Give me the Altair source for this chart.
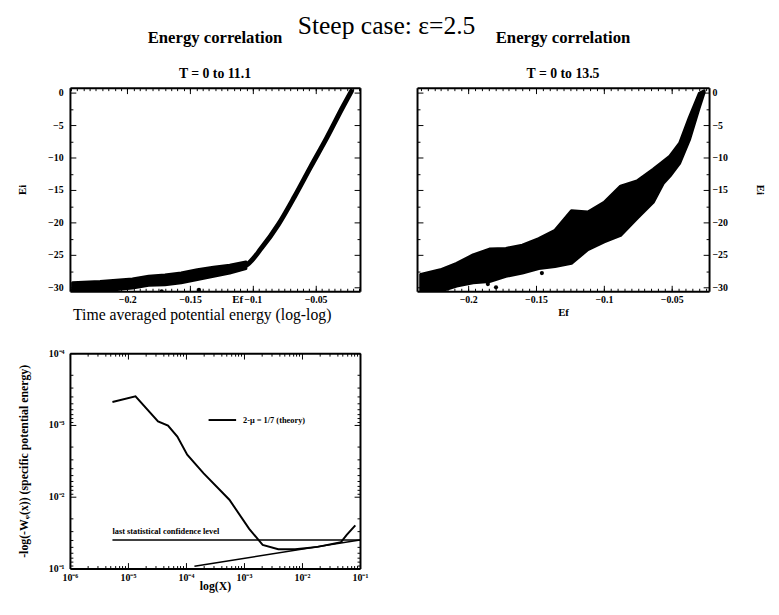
import json
import altair as alt
import numpy as np
import pandas as pd

SERIF = "Liberation Serif"

# ---------------- data ----------------
MAIN_TITLE = "Steep case: \u03b5=2.5"

# top-left panel: T = 0 to 11.1
TL_BAND_EF = [-0.2436, -0.2217, -0.1959, -0.1830, -0.1700, -0.1571, -0.1442, -0.1313, -0.1184, -0.1055]
TL_BAND_UP = [-29.3, -29.1, -28.7, -28.3, -28.1, -27.8, -27.3, -26.9, -26.6, -26.1]
TL_BAND_LO = [-30.9, -30.6, -30.1, -29.7, -29.6, -29.3, -28.8, -28.3, -27.8, -27.1]
TL_CURVE_EF = [-0.1184, -0.1055, -0.0925, -0.0796, -0.0667, -0.0538, -0.0409, -0.0280, -0.0215]
TL_CURVE_EI = [-27.2, -26.6, -23.8, -20.3, -16.0, -11.4, -6.9, -2.1, 0.2]
TL_DOTS_EF = [-0.1726, -0.1429]
TL_DOTS_EI = [-30.6, -30.4]

# top-right panel: T = 0 to 13.5
TR_EF = [-0.2350, -0.2205, -0.2085, -0.1964, -0.1843, -0.1722, -0.1601, -0.1480, -0.1360, -0.1239,
         -0.1118, -0.0998, -0.0877, -0.0756, -0.0636, -0.0563, -0.0514, -0.0442, -0.0370, -0.0297, -0.0261]
TR_UP = [-28.0, -27.3, -26.3, -25.0, -24.1, -24.0, -23.5, -22.5, -21.2, -18.2,
         -18.4, -16.9, -14.4, -13.6, -11.8, -10.6, -9.8, -7.8, -3.8, -0.1, 0.3]
TR_LO = [-30.8, -30.6, -29.8, -29.3, -29.1, -28.3, -27.8, -27.1, -26.8, -26.3,
         -24.2, -23.0, -22.0, -19.4, -16.9, -14.0, -12.9, -10.9, -7.3, -2.3, 0.0]
TR_DOTS_EF = [-0.1855, -0.1795, -0.1457]
TR_DOTS_EI = [-29.5, -30.0, -27.8]

# bottom panel: time averaged potential energy
BL_X = [5.4e-6, 1.35e-5, 3.3e-5, 4.9e-5, 7.1e-5, 1.05e-4, 2.0e-4, 5.6e-4, 1.23e-3, 2.1e-3,
        3.9e-3, 7.6e-3, 1.86e-2, 4.7e-2, 5.9e-2, 8.3e-2]
BL_Y = [4.8e-4, 4.0e-4, 8.9e-4, 1.02e-3, 1.45e-3, 2.6e-3, 4.7e-3, 1.1e-2, 2.8e-2, 4.7e-2,
        5.4e-2, 5.4e-2, 5.0e-2, 4.3e-2, 3.4e-2, 2.5e-2]
BL_CONF_X = [5.4e-6, 1e-1]
BL_CONF_Y = [0.040, 0.040]
BL_CONF_LABEL = "last statistical confidence level"
BL_TH_X = [1.4e-4, 1e-1]
BL_TH_Y = [0.093, 0.040]
BL_TH_LABEL = "2-\u03bc = 1/7 (theory)"

# ticks / labels
E_MAJOR = [-30, -25, -20, -15, -10, -5, 0]
E_MINOR = [-27.5, -22.5, -17.5, -12.5, -7.5, -2.5]
EF_MAJOR = [-0.2, -0.15, -0.1, -0.05]
EF_MINOR = [round(v, 3) for v in np.arange(-0.245, -0.014, 0.005)]
LOGX_MAJOR = [1e-6, 1e-5, 1e-4, 1e-3, 1e-2, 1e-1]
LOGY_MAJOR = [1e-4, 1e-3, 1e-2, 1e-1]
LOG_LABELS = ["10\u2070", "10\u207b\u00b9", "10\u207b\u00b2", "10\u207b\u00b3",
              "10\u207b\u2074", "10\u207b\u2075", "10\u207b\u2076"]


def log_minor(lo_exp, hi_exp):
    return [k * 10.0 ** e for e in range(lo_exp, hi_exp) for k in range(2, 10)]


LOGX_MINOR = log_minor(-6, -1)
LOGY_MINOR = log_minor(-4, -1)

TL_W, TL_H = 295, 207
TR_W, TR_H = 297, 207
BL_W, BL_H = 295, 219


def ax(**kw):
    base = dict(ticks=False, domain=False, grid=False, labelFont=SERIF, labelFontSize=10,
                labelFontWeight="bold", labelColor="black", titleFont=SERIF, titleFontSize=11,
                titleFontWeight="bold", titleColor="black", labelFlush=False)
    base.update(kw)
    return alt.Axis(**base)


def tick_axis(orient, offset, values, size, domain):
    return alt.Axis(orient=orient, offset=offset, values=values, tickSize=size, tickColor="black",
                    tickWidth=1, ticks=True, labels=False, title=None, grid=False, domain=domain,
                    domainColor="black", domainWidth=2, zindex=1)


def tick_layers(xs, ys, xlo, ylo, W, H, xmaj, xmin, ymaj, ymin, lmaj=6, lmin=3):
    """Invisible layers whose only job is to draw inward ticks and the frame via axes."""
    df = pd.DataFrame({"tx": [xlo], "ty": [ylo]})
    out = []
    for xo, yo in (("bottom", "right"), ("top", "left")):
        for vx, vy, L, dom in ((xmaj, ymaj, lmaj, True), (xmin, ymin, lmin, False)):
            out.append(alt.Chart(df).mark_point(opacity=0).encode(
                x=alt.X("tx:Q", scale=xs, axis=tick_axis(xo, -H, vx, L, dom)),
                y=alt.Y("ty:Q", scale=ys, axis=tick_axis(yo, -W, vy, L, dom)),
            ))
    return out


def panel_title(text, sub):
    return alt.TitleParams(text=text, subtitle=sub, font=SERIF, fontSize=17, fontWeight="bold",
                           color="black", subtitleFont=SERIF, subtitleFontSize=14,
                           subtitleFontWeight="bold", subtitleColor="black", subtitlePadding=21,
                           offset=5, anchor="middle", frame="group")


# ---------------- top-left ----------------
tl_x = alt.Scale(domain=[-0.2457, -0.0146], nice=False, zero=False)
tl_y = alt.Scale(domain=[-30.6, 0.76], nice=False, zero=False)
tl_xax = ax(values=EF_MAJOR, format=".2~f", title="Ef", labelPadding=3,
            titleX=170, titleY=8, titleBaseline="middle")
tl_yax = ax(values=E_MAJOR, title="Ei", labelPadding=7, titlePadding=20)

tl_band = alt.Chart(pd.DataFrame({"Ef": TL_BAND_EF, "up": TL_BAND_UP, "lo": TL_BAND_LO})).mark_area(
    color="black", stroke="black", strokeWidth=3, strokeJoin="round", clip=True
).encode(
    x=alt.X("Ef:Q", scale=tl_x, axis=tl_xax),
    y=alt.Y("lo:Q", scale=tl_y, axis=tl_yax),
    y2="up:Q",
)
tl_curve = alt.Chart(pd.DataFrame({"Ef": TL_CURVE_EF, "Ei": TL_CURVE_EI})).mark_line(
    color="black", strokeWidth=5, strokeCap="round", interpolate="monotone", clip=True
).encode(x=alt.X("Ef:Q", scale=tl_x, axis=tl_xax), y=alt.Y("Ei:Q", scale=tl_y, axis=tl_yax))
tl_dots = alt.Chart(pd.DataFrame({"Ef": TL_DOTS_EF, "Ei": TL_DOTS_EI})).mark_circle(
    color="black", size=18, opacity=1, clip=True
).encode(x=alt.X("Ef:Q", scale=tl_x, axis=tl_xax), y=alt.Y("Ei:Q", scale=tl_y, axis=tl_yax))

tl = alt.layer(
    alt.layer(tl_band, tl_curve, tl_dots),
    *tick_layers(tl_x, tl_y, -0.2457, -30.6, TL_W, TL_H, EF_MAJOR, EF_MINOR, E_MAJOR, E_MINOR),
).resolve_axis(x="independent", y="independent").properties(
    width=TL_W, height=TL_H, title=panel_title("Energy correlation", "T = 0 to 11.1"))

# ---------------- top-right ----------------
tr_x = alt.Scale(domain=[-0.2377, -0.0225], nice=False, zero=False)
tr_y = alt.Scale(domain=[-30.6, 0.76], nice=False, zero=False)
tr_xax = ax(values=EF_MAJOR, format=".2~f", title="Ef", labelPadding=3, titlePadding=3)
tr_yax = ax(values=E_MAJOR, title="Ei", orient="right", labelPadding=3, titlePadding=28)

tr_band = alt.Chart(pd.DataFrame({"Ef": TR_EF, "up": TR_UP, "lo": TR_LO})).mark_area(
    color="black", stroke="black", strokeWidth=3, strokeJoin="round", clip=True
).encode(
    x=alt.X("Ef:Q", scale=tr_x, axis=tr_xax),
    y=alt.Y("lo:Q", scale=tr_y, axis=tr_yax),
    y2="up:Q",
)
tr_dots = alt.Chart(pd.DataFrame({"Ef": TR_DOTS_EF, "Ei": TR_DOTS_EI})).mark_circle(
    color="black", size=18, opacity=1, clip=True
).encode(x=alt.X("Ef:Q", scale=tr_x, axis=tr_xax), y=alt.Y("Ei:Q", scale=tr_y, axis=tr_yax))

tr = alt.layer(
    alt.layer(tr_band, tr_dots),
    *tick_layers(tr_x, tr_y, -0.2377, -30.6, TR_W, TR_H, EF_MAJOR, EF_MINOR, E_MAJOR, E_MINOR),
).resolve_axis(x="independent", y="independent").properties(
    width=TR_W, height=TR_H, title=panel_title("Energy correlation", "T = 0 to 13.5"))

# ---------------- bottom ----------------
bl_x = alt.Scale(type="log", domain=[1e-6, 1e-1], nice=False)
bl_y = alt.Scale(type="log", domain=[1e-4, 1e-1], nice=False, reverse=True)
lab_expr = json.dumps(LOG_LABELS, ensure_ascii=False) + "[round(-log(datum.value)/LN10)]"
bl_xax = ax(values=LOGX_MAJOR, labelExpr=lab_expr, title="log(X)", labelPadding=4, labelFontSize=10,
            titleFontSize=12, titleY=12, titleBaseline="top")
bl_yax = ax(values=LOGY_MAJOR, labelExpr=lab_expr,
            title="-log(-W\u1d69(x)) (specific potential energy)", labelFontSize=10,
            titleFontSize=12, labelPadding=6, titlePadding=18)

bl_curve = alt.Chart(pd.DataFrame({"x": BL_X, "w": BL_Y})).mark_line(
    color="black", strokeWidth=2, clip=True
).encode(x=alt.X("x:Q", scale=bl_x, axis=bl_xax), y=alt.Y("w:Q", scale=bl_y, axis=bl_yax))
bl_conf = alt.Chart(pd.DataFrame({"x": BL_CONF_X, "w": BL_CONF_Y})).mark_line(
    color="black", strokeWidth=1.5, clip=True
).encode(x=alt.X("x:Q", scale=bl_x, axis=bl_xax), y=alt.Y("w:Q", scale=bl_y, axis=bl_yax))
bl_conf_text = alt.Chart(pd.DataFrame({"x": [BL_CONF_X[0]], "w": [0.0335], "t": [BL_CONF_LABEL]})).mark_text(
    font=SERIF, fontSize=8.5, fontWeight="bold", align="left", baseline="alphabetic", color="black"
).encode(x=alt.X("x:Q", scale=bl_x, axis=bl_xax), y=alt.Y("w:Q", scale=bl_y, axis=bl_yax), text="t:N")
bl_theory = alt.Chart(pd.DataFrame({"x": BL_TH_X, "w": BL_TH_Y,
                                    "name": [BL_TH_LABEL, BL_TH_LABEL]})).mark_line(
    strokeWidth=1.5, clip=True
).encode(
    x=alt.X("x:Q", scale=bl_x, axis=bl_xax), y=alt.Y("w:Q", scale=bl_y, axis=bl_yax),
    color=alt.Color("name:N", scale=alt.Scale(range=["black"]),
                    legend=alt.Legend(orient="none", legendX=140, legendY=53, title=None,
                                      symbolType="stroke", symbolStrokeWidth=2, symbolSize=784,
                                      labelFont=SERIF, labelFontSize=8.5, labelFontWeight="bold",
                                      labelColor="black", padding=0, labelOffset=6)),
)

bl = alt.layer(
    alt.layer(bl_curve, bl_conf, bl_conf_text, bl_theory),
    *tick_layers(bl_x, bl_y, 1e-6, 1e-4, BL_W, BL_H, LOGX_MAJOR, LOGX_MINOR, LOGY_MAJOR, LOGY_MINOR),
).resolve_axis(x="independent", y="independent").properties(
    width=BL_W, height=BL_H,
    title=alt.TitleParams(text="Time averaged potential energy (log-log)", font=SERIF, fontSize=16,
                          fontWeight="normal", color="black", offset=26, anchor="middle",
                          frame="group", dx=-13))

chart = alt.concat(tl, tr, bl, columns=2, spacing={"row": 63, "column": 58},
                   bounds="flush").resolve_scale(color="independent").properties(
    title=alt.TitleParams(text=MAIN_TITLE, font=SERIF, fontSize=26, fontWeight="normal", color="black",
                          anchor="middle", offset=-10, dx=-5),
    padding={"left": 9, "top": 0, "right": 5, "bottom": 5},
).configure_view(strokeWidth=0)

chart.save("out.html", embed_options={"renderer": "svg", "actions": False})
